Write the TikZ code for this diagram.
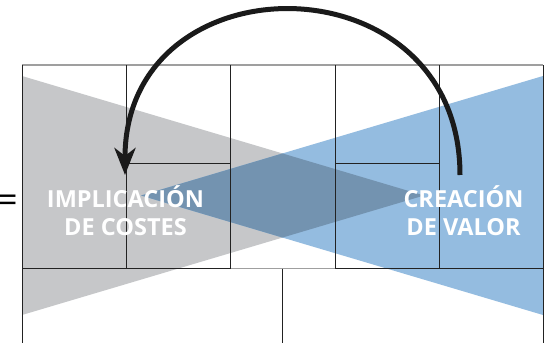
\documentclass[tikz,border=0pt]{standalone}
\usepackage{fontspec}
\setsansfont{Open Sans}
\usetikzlibrary{arrows.meta}
\definecolor{costgray}{HTML}{C6C7C9}
\definecolor{valueblue}{HTML}{94BCE0}
\definecolor{overlapblue}{HTML}{7393B0}
\definecolor{gridline}{HTML}{222222}
\definecolor{arrowblack}{HTML}{1A1A1A}

\begin{document}
\begin{tikzpicture}[x=1pt,y=-1pt,
 cell/.style={draw=gridline,line width=0.9pt},
 softcell/.style={draw=gray!75,line width=1.3pt},
 label/.style={font=\sffamily\bfseries\fontsize{23.5}{28}\selectfont,text=white,align=center,inner sep=0pt},
 >={Stealth[length=27pt,width=21pt,inset=8pt]}]
\fill[white] (0,0) rectangle (544,343);
\useasboundingbox (0,0) rectangle (544,343);
% the two wedges
\coordinate (costtop) at (22,76); \coordinate (costbot) at (22,315); \coordinate (costtip) at (424,195.5);
\coordinate (valtop) at (543,76); \coordinate (valbot) at (543,315); \coordinate (valtip) at (141,195.5);
\fill[costgray] (costtop)--(costbot)--(costtip)--cycle;
\fill[valueblue] (valtop)--(valbot)--(valtip)--cycle;
\begin{scope}
 \clip (costtop)--(costbot)--(costtip)--cycle;
 \fill[overlapblue] (valtop)--(valbot)--(valtip)--cycle;
\end{scope}
% canvas grid
\draw[softcell] (22,65)--(543,65);
\draw[cell] (22,343)--(22,65) (543,65)--(543,343);
\draw[cell] (22,268.5)--(230,268.5) (335,268.5)--(543,268.5);
\draw[softcell] (230,268.5)--(335,268.5);
\foreach \x in {126,230,335,439} \draw[cell] (\x,65)--(\x,268.5);
\draw[cell] (126,163)--(230,163) (335,163)--(439,163);
\draw[cell] (282.5,268.5)--(282.5,343);
% labels
\node[label] (costes) at (125.5,211) {IMPLICACIÓN\\DE COSTES};
\node[label] (valor) at (463.5,211) {CREACIÓN\\DE VALOR};
\node[font=\sffamily\fontsize{36}{36}\selectfont,anchor=east,inner sep=0pt] (equal) at (18,203.5) {=};
% feedback arrow
\coordinate (arcstart) at (460,175);
\coordinate (arcend) at (125,175);
\draw[->,draw=arrowblack,line width=5pt] (arcstart) .. controls (460,-44) and (125,-44) .. (arcend);
\end{tikzpicture}
\end{document}
